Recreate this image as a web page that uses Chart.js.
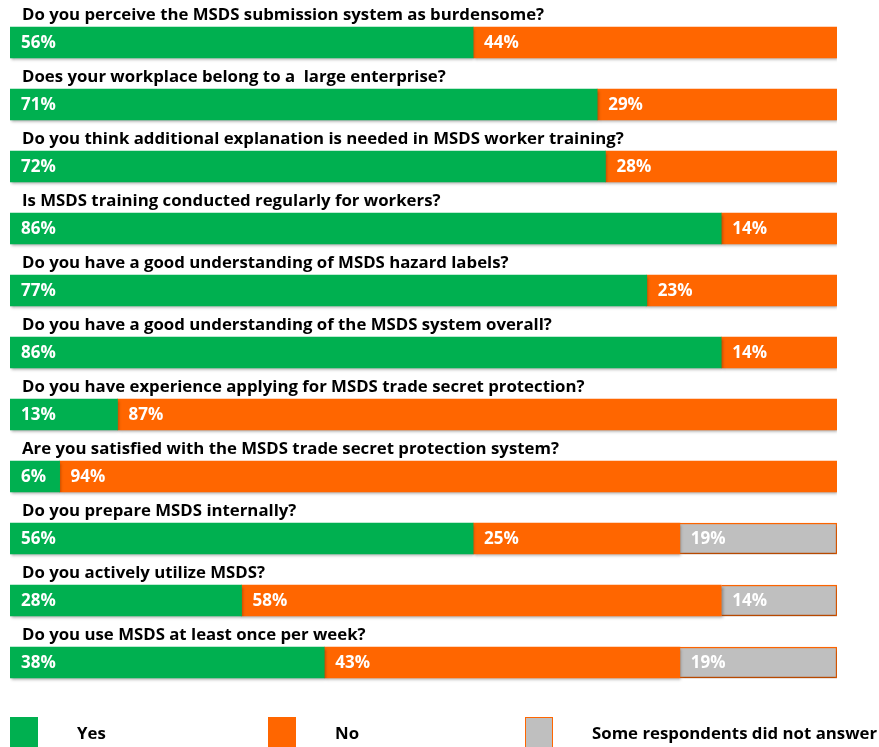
<!DOCTYPE html>
<html>
<head>
<meta charset="utf-8">
<script src="https://cdn.jsdelivr.net/npm/chart.js@4.4.1/dist/chart.umd.min.js"></script>
<style>
html,body{margin:0;padding:0;background:#fff;}
#wrap{width:879px;height:747px;}
</style>
</head>
<body>
<div id="wrap"><canvas id="c" width="879" height="747"></canvas></div>
<script>
const questions = [
  "Do you perceive the MSDS submission system as burdensome?",
  "Does your workplace belong to a  large enterprise?",
  "Do you think additional explanation is needed in MSDS worker training?",
  "Is MSDS training conducted regularly for workers?",
  "Do you have a good understanding of MSDS hazard labels?",
  "Do you have a good understanding of the MSDS system overall?",
  "Do you have experience applying for MSDS trade secret protection?",
  "Are you satisfied with the MSDS trade secret protection system?",
  "Do you prepare MSDS internally?",
  "Do you actively utilize MSDS?",
  "Do you use MSDS at least once per week?"
];
const yesValues = [56, 71, 72, 86, 77, 86, 13, 6, 56, 28, 38];
const noValues = [44, 29, 28, 14, 23, 14, 87, 94, 25, 58, 43];
const noAnswerValues = [null, null, null, null, null, null, null, null, 19, 14, 19];
const seriesNames = ["Yes", "No", "Some respondents did not answer"];

const FONT = "'Open Sans', Lato, sans-serif";
const GREEN = "#00B050", ORANGE = "#FF6600", GRAY = "#BFBFBF";

const shadowPlugin = {
  id: 'shadow',
  beforeDatasetDraw(chart) {
    const ctx = chart.ctx;
    ctx.save();
    ctx.shadowColor = 'rgba(0,0,0,0.35)';
    ctx.shadowBlur = 3;
    ctx.shadowOffsetX = 1;
    ctx.shadowOffsetY = 2;
  },
  afterDatasetDraw(chart) { chart.ctx.restore(); }
};

const labelPlugin = {
  id: 'labels',
  afterDatasetsDraw(chart) {
    const ctx = chart.ctx;
    ctx.save();
    ctx.fillStyle = '#000';
    ctx.font = "bold 16.8px " + FONT;
    ctx.textBaseline = 'middle';
    ctx.textAlign = 'left';
    const yScale = chart.scales.y;
    questions.forEach((q, i) => {
      const yc = yScale.getPixelForValue(i);
      ctx.fillText(q, 22, yc - 27);
    });
    ctx.fillStyle = '#fff';
    ctx.font = "bold 17px " + FONT;
    chart.data.datasets.forEach((ds, di) => {
      const meta = chart.getDatasetMeta(di);
      meta.data.forEach((bar, i) => {
        const v = ds.data[i];
        if (v == null) return;
        const left = Math.min(bar.x, bar.base);
        ctx.fillText(v + '%', left + 11, bar.y + 1);
      });
    });
    const legendX = [10, 268, 525];
    chart.data.datasets.forEach((ds, di) => {
      const x = legendX[di];
      ctx.fillStyle = ds.backgroundColor;
      ctx.fillRect(x, 717, 28, 30);
      if (di === 2) {
        ctx.strokeStyle = ORANGE;
        ctx.lineWidth = 1;
        ctx.strokeRect(x + 0.5, 717.5, 27, 30);
      }
      ctx.fillStyle = '#000';
      ctx.font = "bold 16.8px " + FONT;
      ctx.fillText(ds.label, x + 67, 734);
    });
    ctx.restore();
  }
};

new Chart(document.getElementById('c'), {
  type: 'bar',
  data: {
    labels: questions,
    datasets: [
      { label: seriesNames[0], data: yesValues, backgroundColor: GREEN, borderWidth: 0 },
      { label: seriesNames[1], data: noValues, backgroundColor: ORANGE, borderWidth: 0 },
      { label: seriesNames[2], data: noAnswerValues, backgroundColor: GRAY, borderColor: ORANGE, borderWidth: 1.5 }
    ]
  },
  options: {
    indexAxis: 'y',
    responsive: false,
    animation: false,
    devicePixelRatio: 1,
    layout: { padding: { left: 10, right: 42, top: 11.5, bottom: 53.5 } },
    datasets: { bar: { barThickness: 31 } },
    scales: {
      x: { stacked: true, min: 0, max: 100, display: false },
      y: { stacked: true, display: false }
    },
    plugins: {
      legend: { display: false },
      tooltip: { enabled: false }
    }
  },
  plugins: [shadowPlugin, labelPlugin]
});
</script>
</body>
</html>
